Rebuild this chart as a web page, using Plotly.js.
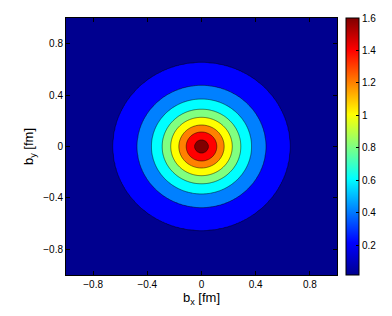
<!DOCTYPE html>
<html><head><meta charset="utf-8">
<script src="https://cdn.plot.ly/plotly-3.0.1.min.js"></script>
<style>html,body{margin:0;padding:0;background:#fff}</style>
</head><body>
<div id="chart" style="width:392px;height:316px"></div>
<script>
// Radial profile: radius (fm) -> density
const profileRadius = [0, 0.052, 0.113, 0.167, 0.227, 0.290, 0.369, 0.475, 0.653, 1.0, 1.42];
const profileValue  = [1.66, 1.6, 1.4, 1.2, 1.0, 0.8, 0.6, 0.4, 0.2, 0.055, 0.015];
// Contour levels (colorbar ticks)
const contourLevels = [0.2, 0.4, 0.6, 0.8, 1.0, 1.2, 1.4, 1.6];
const colorbarTicks = [0.2, 0.4, 0.6, 0.8, 1.0, 1.2, 1.4, 1.6];
const axisTicks = [-0.8, -0.4, 0, 0.4, 0.8];
const axisRange = [-1, 1];

// grid table needed by the contour trace, built from the measured profile
const N = 201;
const grid = [];
for (let i = 0; i < N; i++) grid.push(+(axisRange[0] + i * (axisRange[1] - axisRange[0]) / (N - 1)).toFixed(4));
function profileAt(r) {
  for (let k = 0; k < profileRadius.length - 1; k++) {
    if (r <= profileRadius[k + 1]) {
      const t = (r - profileRadius[k]) / (profileRadius[k + 1] - profileRadius[k]);
      return profileValue[k] + t * (profileValue[k + 1] - profileValue[k]);
    }
  }
  return profileValue[profileValue.length - 1];
}
const z = grid.map(by => grid.map(bx => profileAt(Math.sqrt(bx * bx + by * by))));
let zMin = Infinity; z.forEach(row => row.forEach(v => { if (v < zMin) zMin = v; }));

const jet = [[0,'rgb(0,0,143)'],[0.125,'rgb(0,0,255)'],[0.375,'rgb(0,255,255)'],[0.625,'rgb(255,255,0)'],[0.875,'rgb(255,0,0)'],[1,'rgb(128,0,0)']];
const font = {family: 'Liberation Sans, Arial, sans-serif', size: 10, color: '#000'};

const traces = [
  { type: 'heatmap', x: grid, y: grid, z: z, colorscale: jet,
    zmin: zMin, zmax: contourLevels[contourLevels.length - 1],
    hoverinfo: 'skip', showscale: true,
    colorbar: { thickness: 13, thicknessmode: 'pixels', len: 1, lenmode: 'fraction',
      xref: 'container', x: 346/392, xanchor: 'left', xpad: 0, ypad: 0, y: 0.5, yanchor: 'middle',
      outlinewidth: 1, outlinecolor: '#000', tickvals: colorbarTicks, ticktext: colorbarTicks.map(v => String(v)),
      ticks: 'inside', ticklen: 3, tickcolor: '#000', tickfont: font, borderwidth: 0 } },
  { type: 'contour', x: grid, y: grid, z: z, colorscale: jet, showscale: false,
    autocontour: false,
    contours: { start: contourLevels[0], end: contourLevels[contourLevels.length - 1],
      size: contourLevels[1] - contourLevels[0], coloring: 'fill' },
    line: { color: '#000', width: 0.5, smoothing: 0 }, hoverinfo: 'skip' }
];

const axisBase = { range: axisRange, tickvals: axisTicks, ticks: 'inside', ticklen: 4, tickcolor: '#000',
  showline: true, linecolor: '#000', linewidth: 1, mirror: 'ticks', showgrid: false, zeroline: false,
  tickfont: font };

const layout = {
  width: 392, height: 316,
  margin: { l: 66, r: 55, t: 18, b: 41 },
  paper_bgcolor: '#fff', plot_bgcolor: '#fff',
  font: font,
  xaxis: Object.assign({}, axisBase, { title: { text: 'b<sub>x</sub> [fm]', font: { family: font.family, size: 13, color: '#000' }, standoff: 2 } }),
  yaxis: Object.assign({}, axisBase, { title: { text: 'b<sub>y</sub> [fm]', font: { family: font.family, size: 13, color: '#000' }, standoff: 6 } }),
  showlegend: false
};

Plotly.newPlot('chart', traces, layout, { staticPlot: true, displayModeBar: false });
</script>
</body></html>
